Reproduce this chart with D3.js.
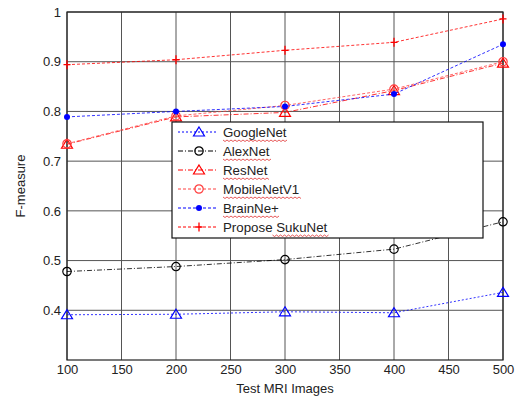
<!DOCTYPE html>
<html><head><meta charset="utf-8">
<script src="https://cdn.jsdelivr.net/npm/d3@7"></script>
<style>body{margin:0;background:#fff}svg{display:block}</style>
</head><body><div id="chart"></div>
<script>
const xValues = [100, 200, 300, 400, 500];
const googleNet = [0.391, 0.392, 0.397, 0.395, 0.436];
const alexNet = [0.478, 0.488, 0.502, 0.523, 0.578];
const resNet = [0.734, 0.789, 0.798, 0.842, 0.897];
const mobileNetV1 = [0.735, 0.791, 0.812, 0.845, 0.900];
const brainNe = [0.789, 0.800, 0.810, 0.835, 0.935];
const sukuNet = [0.894, 0.904, 0.923, 0.939, 0.986];
const seriesNames = ["GoogleNet", "AlexNet", "ResNet", "MobileNetV1", "BrainNe+", "Propose SukuNet"];
const xTicks = [100, 150, 200, 250, 300, 350, 400, 450, 500];
const yTicks = [0.4, 0.5, 0.6, 0.7, 0.8, 0.9, 1];

const series = [
  {name: seriesNames[0], values: googleNet, color: "#0000ff", marker: "triangle", dash: "2,2"},
  {name: seriesNames[1], values: alexNet, color: "#000000", marker: "circle", dash: "5,2,1,2"},
  {name: seriesNames[2], values: resNet, color: "#ff0000", marker: "triangle", dash: "5,2,1,2"},
  {name: seriesNames[3], values: mobileNetV1, color: "#ff4040", marker: "circle", dash: "3,2"},
  {name: seriesNames[4], values: brainNe, color: "#0000ff", marker: "dot", dash: "3,2"},
  {name: seriesNames[5], values: sukuNet, color: "#ff0000", marker: "plus", dash: "3,2"}
];

const W = 518, H = 398;
const m = {left: 67, right: 15, top: 12, bottom: 38};
const svg = d3.select("#chart").append("svg").attr("width", W).attr("height", H)
  .style("font-family", "'Liberation Sans', Arial, sans-serif");

const x = d3.scaleLinear().domain([100, 500]).range([m.left, W - m.right]);
const y = d3.scaleLinear().domain([0.3, 1]).range([H - m.bottom, m.top]);

// grid
const g = svg.append("g");
g.selectAll(".gx").data(xTicks).join("line")
  .attr("x1", d => x(d)).attr("x2", d => x(d)).attr("y1", y(0.3)).attr("y2", y(1))
  .attr("stroke", "#555").attr("stroke-width", 1);
g.selectAll(".gy").data(yTicks).join("line")
  .attr("x1", x(100)).attr("x2", x(500)).attr("y1", d => y(d)).attr("y2", d => y(d))
  .attr("stroke", "#555").attr("stroke-width", 1);

// frame
svg.append("rect").attr("x", x(100)).attr("y", y(1)).attr("width", x(500) - x(100))
  .attr("height", y(0.3) - y(1)).attr("fill", "none").attr("stroke", "#222").attr("stroke-width", 1.2);

// axes
const xAxis = svg.append("g").attr("transform", `translate(0,${y(0.3)})`)
  .call(d3.axisBottom(x).tickValues(xTicks).tickSize(0).tickPadding(5).tickFormat(d3.format("d")));
const yAxis = svg.append("g").attr("transform", `translate(${x(100)},0)`)
  .call(d3.axisLeft(y).tickValues(yTicks).tickSize(0).tickPadding(6).tickFormat(d => d === 1 ? "1" : d3.format(".1f")(d)));
[xAxis, yAxis].forEach(a => {
  a.select(".domain").remove();
  a.selectAll("text").attr("font-size", 13).attr("fill", "#222")
    .style("font-family", "'Liberation Sans', Arial, sans-serif");
});

svg.append("text").attr("x", x(300)).attr("y", 393).attr("text-anchor", "middle")
  .attr("font-size", 13).attr("fill", "#222").text("Test MRI Images");
svg.append("text").attr("transform", `translate(25,${(y(0.3)+y(1))/2}) rotate(-90)`)
  .attr("text-anchor", "middle").attr("font-size", 13).attr("fill", "#222").text("F-measure");

function drawMarker(sel, type, color) {
  if (type === "triangle") {
    sel.append("path").attr("d", "M0,-5L5.5,4L-5.5,4Z").attr("fill", "none")
      .attr("stroke", color).attr("stroke-width", 1.2);
  } else if (type === "circle") {
    sel.append("circle").attr("r", 4.2).attr("fill", "none").attr("stroke", color).attr("stroke-width", 1.2);
  } else if (type === "dot") {
    sel.append("circle").attr("r", 3).attr("fill", color);
  } else if (type === "plus") {
    sel.append("path").attr("d", "M-3.5,0H3.5M0,-4.5V4.5").attr("stroke", color).attr("stroke-width", 1.3);
  }
}

const line = d3.line().x((d, i) => x(xValues[i])).y(d => y(d));
series.forEach(s => {
  svg.append("path").datum(s.values).attr("d", line).attr("fill", "none")
    .attr("stroke", s.color).attr("stroke-width", 1).attr("stroke-dasharray", s.dash).attr("opacity", 0.8);
  s.values.forEach((v, i) => {
    const mg = svg.append("g").attr("transform", `translate(${x(xValues[i])},${y(v)})`);
    drawMarker(mg, s.marker, s.color);
  });
});

// legend
const lx = 172, ly = 122, lw = 311, lh = 116;
const leg = svg.append("g");
leg.append("rect").attr("x", lx).attr("y", ly).attr("width", lw).attr("height", lh)
  .attr("fill", "#fff").attr("stroke", "#111").attr("stroke-width", 1.2);
series.forEach((s, i) => {
  const cy = ly + 10 + i * 19;
  leg.append("line").attr("x1", lx + 6).attr("x2", lx + 46).attr("y1", cy).attr("y2", cy)
    .attr("stroke", s.color).attr("stroke-width", 1).attr("stroke-dasharray", s.dash);
  const mg = leg.append("g").attr("transform", `translate(${lx + 27},${cy})`);
  drawMarker(mg, s.marker, s.color);
  const t = leg.append("text").attr("x", lx + 51).attr("y", cy + 5).attr("font-size", 13.3)
    .attr("fill", "#222").text(s.name);
  // spell-check squiggle under the (last) word
  const words = s.name.split(" ");
  const full = t.node().getComputedTextLength();
  let start = lx + 51;
  if (words.length > 1) {
    const tmp = leg.append("text").attr("font-size", 13.3).text(words.slice(0, -1).join(" ") + " ");
    start += tmp.node().getComputedTextLength();
    tmp.remove();
  }
  const end = lx + 51 + full;
  let d = `M${start},${cy + 8}`;
  for (let px = start, k = 0; px < end; px += 2, k++) {
    d += `L${px + 2},${cy + 8 + (k % 2 === 0 ? 1.5 : 0)}`;
  }
  leg.append("path").attr("d", d).attr("fill", "none").attr("stroke", "#e03030").attr("stroke-width", 0.8);
});
</script></body></html>
